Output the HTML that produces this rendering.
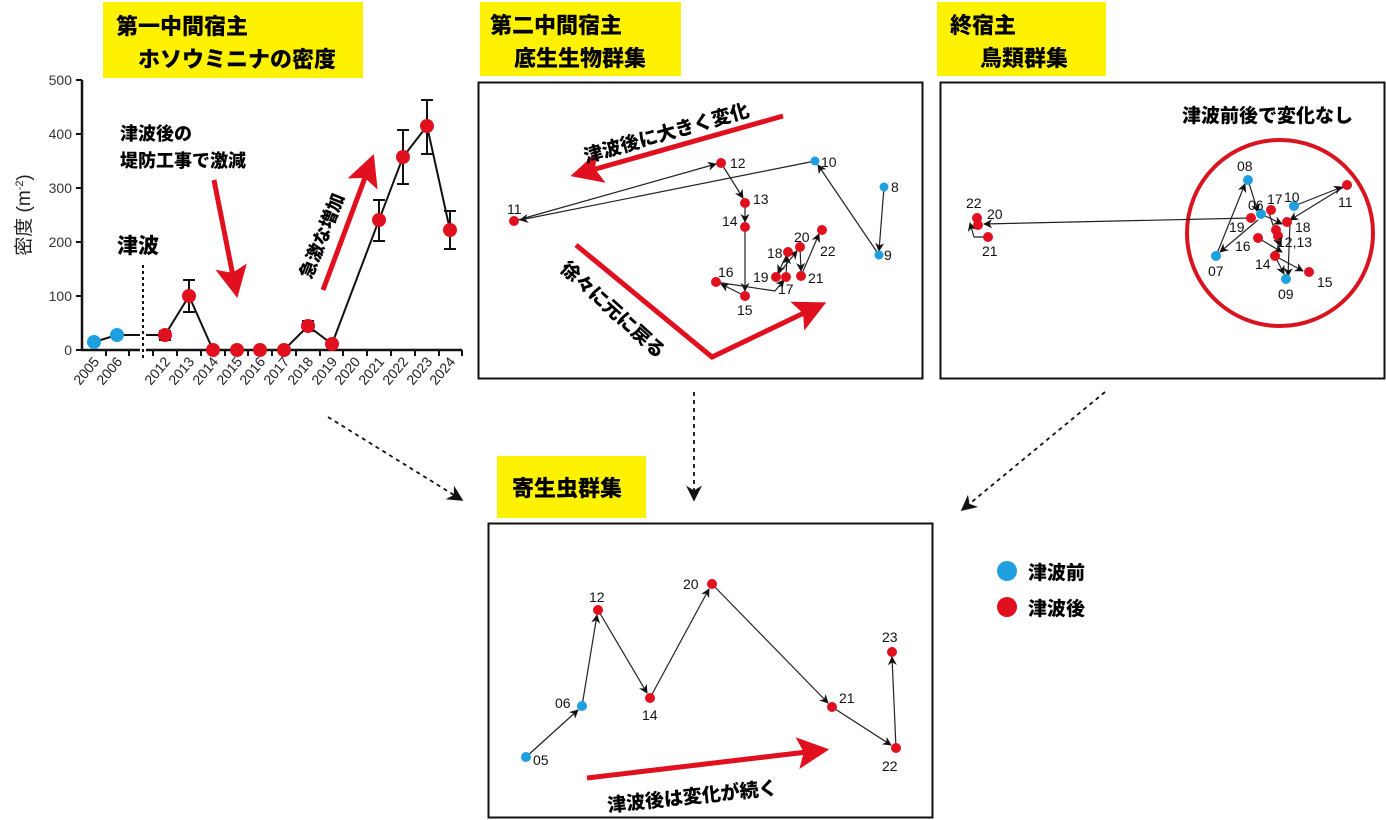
<!DOCTYPE html>
<html><head><meta charset="utf-8"><style>
html,body{margin:0;padding:0;background:#fff;}
svg{display:block;font-family:"Liberation Sans","Noto Sans CJK JP",sans-serif;}
.j{font-family:"Noto Sans CJK JP","Liberation Sans",sans-serif;font-weight:900;}
.n{font-size:14px;fill:#111;}
</style></head><body>
<svg width="1386" height="820" viewBox="0 0 1386 820" xmlns="http://www.w3.org/2000/svg">
<defs>
<marker id="a" viewBox="0 0 10 10" refX="9" refY="5" markerWidth="9" markerHeight="9" orient="auto" markerUnits="userSpaceOnUse"><path d="M0,0 L10,5 L0,10 L3,5z" fill="#111"/></marker>
<marker id="da" viewBox="0 0 10 10" refX="9" refY="5" markerWidth="16" markerHeight="16" orient="auto" markerUnits="userSpaceOnUse"><path d="M0,0 L10,5 L0,10 L3,5z" fill="#111"/></marker>
<marker id="r" viewBox="0 0 10 10" refX="3" refY="5" markerWidth="34" markerHeight="32" orient="auto" markerUnits="userSpaceOnUse"><path d="M0,0 L10,5 L0,10 L2,5z" fill="#e0101e"/></marker>
</defs>

<!-- yellow labels -->
<rect x="103" y="2" width="260" height="76" fill="#fff200"/>
<text class="j" x="116" y="34" font-size="22">第一中間宿主</text>
<text class="j" x="138" y="67" font-size="22">ホソウミニナの密度</text>
<rect x="480" y="2" width="201" height="74" fill="#fff200"/>
<text class="j" x="490" y="33" font-size="22">第二中間宿主</text>
<text class="j" x="514" y="66" font-size="22">底生生物群集</text>
<rect x="937" y="2" width="169" height="74" fill="#fff200"/>
<text class="j" x="950" y="33" font-size="22">終宿主</text>
<text class="j" x="980" y="66" font-size="22">鳥類群集</text>
<rect x="497" y="456" width="149" height="62" fill="#fff200"/>
<text class="j" x="512" y="496" font-size="22">寄生虫群集</text>

<!-- chart -->
<g stroke="#111" stroke-width="2.5" fill="none">
<path d="M82,80 V350 H462"/>
</g>
<g stroke="#111" stroke-width="2">
<path d="M76,80H82M76,134H82M76,188H82M76,242H82M76,296H82M76,350H82"/>
<path d="M106,350v6M129,350v6M153,350v6M177,350v6M201,350v6M225,350v6M248,350v6M272,350v6M296,350v6M320,350v6M343,350v6M367,350v6M391,350v6M415,350v6M439,350v6M462,350v6"/>
</g>
<rect x="140" y="346" width="6" height="8" fill="#fff"/>
<g font-size="14" fill="#333" text-anchor="end">
<text x="72" y="85">500</text><text x="72" y="139">400</text><text x="72" y="193">300</text><text x="72" y="247">200</text><text x="72" y="301">100</text><text x="72" y="355">0</text>
</g>
<g font-size="14" fill="#222" text-anchor="end">
<text transform="translate(100,362) rotate(-50)">2005</text>
<text transform="translate(123,362) rotate(-50)">2006</text>
<text transform="translate(171,362) rotate(-50)">2012</text>
<text transform="translate(195,362) rotate(-50)">2013</text>
<text transform="translate(219,362) rotate(-50)">2014</text>
<text transform="translate(243,362) rotate(-50)">2015</text>
<text transform="translate(266,362) rotate(-50)">2016</text>
<text transform="translate(290,362) rotate(-50)">2017</text>
<text transform="translate(314,362) rotate(-50)">2018</text>
<text transform="translate(338,362) rotate(-50)">2019</text>
<text transform="translate(361,362) rotate(-50)">2020</text>
<text transform="translate(385,362) rotate(-50)">2021</text>
<text transform="translate(409,362) rotate(-50)">2022</text>
<text transform="translate(433,362) rotate(-50)">2023</text>
<text transform="translate(456,362) rotate(-50)">2024</text>
</g>
<text transform="translate(30,215) rotate(-90)" font-size="19" fill="#222" text-anchor="middle">密度 (m<tspan font-size="11" dy="-7">-2</tspan><tspan dy="7">)</tspan></text>
<line x1="143" y1="265" x2="143" y2="358" stroke="#111" stroke-width="2" stroke-dasharray="3,3"/>
<g stroke="#111" stroke-width="2" fill="none">
<polyline points="94,342 117,335 140,335"/>
<polyline points="146,335 165,335 189,296 213,350 237,350 260,350 284,350 308,326 332,344 379,220 403,157 427,126 450,230"/>
<path d="M189,280V312M183,280h12M183,312h12"/>
<path d="M379,200V241M373,200h12M373,241h12"/>
<path d="M403,130V184M397,130h12M397,184h12"/>
<path d="M427,100V154M421,100h12M421,154h12"/>
<path d="M450,211V249M444,211h12M444,249h12"/>
<path d="M308,321V331M302,321h12M302,331h12"/>
<path d="M165,331V340M159,331h12M159,340h12"/>
</g>
<g fill="#e0101e">
<circle cx="165" cy="335" r="7"/><circle cx="189" cy="296" r="7"/><circle cx="213" cy="350" r="7"/><circle cx="237" cy="350" r="7"/><circle cx="260" cy="350" r="7"/><circle cx="284" cy="350" r="7"/><circle cx="308" cy="326" r="7"/><circle cx="332" cy="344" r="7"/><circle cx="379" cy="220" r="7"/><circle cx="403" cy="157" r="7"/><circle cx="427" cy="126" r="7"/><circle cx="450" cy="230" r="7"/>
</g>
<g fill="#1ea0e0"><circle cx="94" cy="342" r="7"/><circle cx="117" cy="335" r="7"/></g>
<text class="j" x="120" y="140" font-size="18">津波後の</text>
<text class="j" x="120" y="167" font-size="18">堤防工事で激減</text>
<text class="j" x="117" y="253" font-size="21">津波</text>
<line x1="214" y1="180" x2="233" y2="276" stroke="#e0101e" stroke-width="5" marker-end="url(#r)"/>
<line x1="323" y1="290" x2="366" y2="175" stroke="#e0101e" stroke-width="5" marker-end="url(#r)"/>
<text class="j" transform="translate(311,280) rotate(-68)" font-size="18">急激な増加</text>

<!-- middle panel -->
<rect x="478.5" y="82.5" width="444" height="296" fill="none" stroke="#111" stroke-width="2"/>
<line x1="783" y1="116" x2="592" y2="170" stroke="#e0101e" stroke-width="5" marker-end="url(#r)"/>
<polyline points="576,245 712,357 806,312" fill="none" stroke="#e0101e" stroke-width="5" marker-end="url(#r)"/>
<text class="j" transform="translate(586,163) rotate(-16)" font-size="19">津波後に大きく変化</text>
<text class="j" transform="translate(559,270) rotate(42)" font-size="19">徐々に元に戻る</text>
<g stroke="#222" stroke-width="1.2" fill="none" marker-end="url(#a)">
<line x1="884" y1="187" x2="879" y2="251"/>
<line x1="879" y1="255" x2="818" y2="165"/>
<line x1="815" y1="161" x2="520" y2="220"/>
<line x1="514" y1="221" x2="716" y2="164"/>
<line x1="721" y1="163" x2="743" y2="198"/>
<line x1="745" y1="203" x2="745" y2="222"/>
<line x1="745" y1="227" x2="745" y2="291"/>
<line x1="745" y1="296" x2="721" y2="284"/>
<polyline points="716,282 775,291 784,280"/>
<line x1="786" y1="277" x2="787" y2="256"/>
<line x1="788" y1="252" x2="778" y2="273"/>
<line x1="776" y1="277" x2="797" y2="251"/>
<line x1="800" y1="247" x2="801" y2="271"/>
<line x1="801" y1="276" x2="819" y2="234"/>
</g>
<g fill="#e0101e">
<circle cx="514" cy="221" r="5"/><circle cx="721" cy="163" r="5"/><circle cx="745" cy="203" r="5"/><circle cx="745" cy="227" r="5"/><circle cx="745" cy="296" r="5"/><circle cx="716" cy="282" r="5"/><circle cx="776" cy="277" r="5"/><circle cx="786" cy="277" r="5"/><circle cx="788" cy="252" r="5"/><circle cx="800" cy="247" r="5"/><circle cx="801" cy="276" r="5"/><circle cx="822" cy="230" r="5"/>
</g>
<g fill="#1ea0e0"><circle cx="815" cy="161" r="4.5"/><circle cx="884" cy="187" r="4.5"/><circle cx="879" cy="255" r="4.5"/></g>
<g class="n">
<text x="507" y="214">11</text><text x="730" y="168">12</text><text x="821" y="167">10</text><text x="891" y="192">8</text><text x="884" y="260">9</text>
<text x="753" y="204">13</text><text x="722" y="226">14</text><text x="737" y="315">15</text><text x="718" y="277">16</text><text x="753" y="282">19</text><text x="778" y="294">17</text><text x="767" y="258">18</text><text x="794" y="242">20</text><text x="808" y="283">21</text><text x="820" y="256">22</text>
</g>

<!-- right panel -->
<rect x="940.5" y="82.5" width="444" height="296" fill="none" stroke="#111" stroke-width="2"/>
<text class="j" x="1182" y="122" font-size="19">津波前後で変化なし</text>
<circle cx="1280" cy="233" r="93" fill="none" stroke="#d8141e" stroke-width="4"/>
<g stroke="#222" stroke-width="1.2" fill="none" marker-end="url(#a)">
<line x1="1251" y1="218" x2="984" y2="224"/>
<polyline points="988,237 974,237 970,223"/>
<line x1="1294" y1="206" x2="1342" y2="187"/>
<line x1="1347" y1="185" x2="1290" y2="220"/>
<line x1="1216" y1="256" x2="1245" y2="184"/>
<line x1="1248" y1="180" x2="1258" y2="212"/>
<line x1="1258" y1="220" x2="1220" y2="252"/>
<line x1="1261" y1="214" x2="1282" y2="224"/>
<line x1="1258" y1="238" x2="1282" y2="252"/>
<line x1="1275" y1="256" x2="1303" y2="271"/>
<line x1="1275" y1="256" x2="1284" y2="274"/>
<line x1="1268" y1="210" x2="1280" y2="246"/>
<line x1="1290" y1="222" x2="1288" y2="276"/>
</g>
<g fill="#e0101e">
<circle cx="977" cy="218" r="5"/><circle cx="978" cy="225" r="5"/><circle cx="988" cy="237" r="5"/>
<circle cx="1347" cy="185" r="5"/><circle cx="1251" cy="218" r="5"/><circle cx="1271" cy="210" r="5"/><circle cx="1287" cy="222" r="5"/><circle cx="1276" cy="230" r="5"/><circle cx="1278" cy="236" r="5"/><circle cx="1258" cy="238" r="5"/><circle cx="1275" cy="256" r="5"/><circle cx="1309" cy="272" r="5"/>
</g>
<g fill="#1ea0e0"><circle cx="1248" cy="180" r="5"/><circle cx="1261" cy="214" r="5"/><circle cx="1294" cy="206" r="5"/><circle cx="1216" cy="256" r="5"/><circle cx="1286" cy="279" r="5"/></g>
<g class="n">
<text x="966" y="208">22</text><text x="987" y="219">20</text><text x="982" y="256">21</text>
<text x="1237" y="171">08</text><text x="1248" y="210">06</text><text x="1267" y="204">17</text><text x="1284" y="202">10</text><text x="1338" y="207">11</text>
<text x="1229" y="232">19</text><text x="1295" y="232">18</text><text x="1277" y="247">12,13</text><text x="1235" y="251">16</text><text x="1255" y="269">14</text><text x="1208" y="276">07</text><text x="1278" y="299">09</text><text x="1317" y="287">15</text>
</g>

<!-- dashed connectors -->
<g stroke="#111" stroke-width="1.8" stroke-dasharray="4,4" fill="none" marker-end="url(#da)">
<line x1="328" y1="417" x2="462" y2="500"/>
<line x1="694" y1="392" x2="694" y2="500"/>
<line x1="1105" y1="392" x2="962" y2="510"/>
</g>

<!-- bottom panel -->
<rect x="488.5" y="523.5" width="444" height="294" fill="none" stroke="#111" stroke-width="2"/>
<line x1="587" y1="778" x2="807" y2="752" stroke="#e0101e" stroke-width="5" marker-end="url(#r)"/>
<text class="j" transform="translate(608,812) rotate(-6)" font-size="19">津波後は変化が続く</text>
<g stroke="#222" stroke-width="1.2" fill="none" marker-end="url(#a)">
<line x1="526" y1="757" x2="578" y2="710"/>
<line x1="582" y1="706" x2="597" y2="615"/>
<line x1="598" y1="610" x2="647" y2="693"/>
<line x1="650" y1="698" x2="709" y2="589"/>
<line x1="712" y1="584" x2="828" y2="703"/>
<line x1="832" y1="707" x2="891" y2="745"/>
<line x1="896" y1="748" x2="892" y2="657"/>
</g>
<g fill="#e0101e"><circle cx="598" cy="610" r="5"/><circle cx="650" cy="698" r="5"/><circle cx="712" cy="584" r="5"/><circle cx="832" cy="707" r="5"/><circle cx="896" cy="748" r="5"/><circle cx="892" cy="652" r="5"/></g>
<g fill="#1ea0e0"><circle cx="526" cy="757" r="5"/><circle cx="582" cy="706" r="5"/></g>
<g class="n">
<text x="533" y="765">05</text><text x="555" y="708">06</text><text x="589" y="602">12</text><text x="642" y="720">14</text><text x="683" y="589">20</text><text x="839" y="703">21</text><text x="882" y="771">22</text><text x="882" y="642">23</text>
</g>

<!-- legend -->
<circle cx="1007" cy="571" r="10" fill="#1ea0e0"/>
<text class="j" x="1028" y="579" font-size="19">津波前</text>
<circle cx="1007" cy="607" r="10" fill="#e0101e"/>
<text class="j" x="1028" y="615" font-size="19">津波後</text>
</svg>
</body></html>
